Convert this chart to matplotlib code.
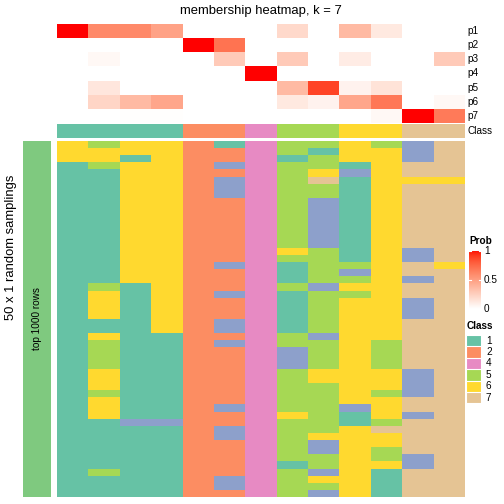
import numpy as np
import matplotlib
matplotlib.use("Agg")
import matplotlib.pyplot as plt
from matplotlib.colors import ListedColormap

plt.rcParams['font.family'] = ['Liberation Sans', 'DejaVu Sans']

# membership probabilities, rows p1..p7, 13 samples
prob_labels = ['p1', 'p2', 'p3', 'p4', 'p5', 'p6', 'p7']
p1 = [1.0, 0.60, 0.60, 0.48, 0, 0, 0, 0.20, 0, 0.36, 0.12, 0, 0]
p2 = [0, 0, 0, 0, 1.0, 0.70, 0, 0, 0, 0, 0, 0, 0]
p3 = [0, 0.04, 0, 0, 0, 0.28, 0, 0.28, 0, 0.10, 0, 0, 0.28]
p4 = [0, 0, 0, 0, 0, 0, 1.0, 0, 0, 0, 0, 0, 0]
p5 = [0, 0.13, 0, 0, 0, 0, 0, 0.36, 0.88, 0.07, 0.15, 0, 0]
p6 = [0, 0.22, 0.36, 0.46, 0, 0, 0, 0.12, 0.07, 0.46, 0.68, 0, 0.04]
p7 = [0, 0, 0.01, 0.01, 0, 0, 0, 0, 0, 0, 0.04, 1.0, 0.67]

sample_class = [1, 1, 1, 1, 2, 2, 4, 5, 5, 6, 6, 7, 7]

# class calls for the 50 random samplings (one string per sample column)
col01 = "66611111111111111111111111111111111111111111111111"
col02 = "56651111111111111111566661165555666566611111115111"
col03 = "66166666666666666666111111111111111111131111111111"
col04 = "66666666666666666666666666611111111111131111111111"
col05 = "22222222222222222222222222222222222222222222222222"
col06 = "12232333222222222322232223323222222223223322222332"
col07 = "44444444444444444444444444444444444444444444444444"
col08 = "55155555555555565111511111155333555555655555515555"
col09 = "51556755333333355555355555535555665555555633553653"
col10 = "66613111111111111535656666666666666663116666666666"
col11 = "56666666666666666666666666665555666566657665561111"
col12 = "33377677777777733773773337777777333377377777337777"
col13 = "77777677777777777677777777777777777777777777777777"
sampling_cols = [col01, col02, col03, col04, col05, col06, col07,
                 col08, col09, col10, col11, col12, col13]

class_labels = ['1', '2', '4', '5', '6', '7']
set2 = ['#66C2A5', '#FC8D62', '#8DA0CB', '#E78AC3', '#A6D854', '#FFD92F', '#E5C494']
class_cmap = ListedColormap(set2)


def lab_white_red(n=256):
    # white -> red interpolated in CIE LAB, like colorRamp2
    t = np.linspace(0, 1, n)
    L = 100 + (53.24 - 100) * t
    a = 80.09 * t
    b = 67.20 * t
    fy = (L + 16) / 116
    fx = fy + a / 500
    fz = fy - b / 200

    def finv(f):
        return np.where(f > 6 / 29, f ** 3, 3 * (6 / 29) ** 2 * (f - 4 / 29))
    X = 0.95047 * finv(fx)
    Y = finv(fy)
    Z = 1.08883 * finv(fz)
    r = 3.2406 * X - 1.5372 * Y - 0.4986 * Z
    g = -0.9689 * X + 1.8758 * Y + 0.0415 * Z
    bb = 0.0557 * X - 0.2040 * Y + 1.0570 * Z
    rgb = np.clip(np.stack([r, g, bb], axis=1), 0, 1)
    rgb = np.where(rgb <= 0.0031308, 12.92 * rgb, 1.055 * rgb ** (1 / 2.4) - 0.055)
    return ListedColormap(np.clip(rgb, 0, 1))


prob_cmap = lab_white_red()

W, H = 504, 504
fig = plt.figure(figsize=(W / 100, H / 100), dpi=100)


def ax_px(x0, y0, x1, y1):
    ax = fig.add_axes([x0 / W, 1 - y1 / H, (x1 - x0) / W, (y1 - y0) / H])
    ax.set_axis_off()
    return ax


def txt(x, y, s, **kw):
    fig.text(x / W, 1 - y / H, s, **kw)


hx0, hx1 = 57, 465

# probability annotation
prob = np.array([p1, p2, p3, p4, p5, p6, p7])
ax = ax_px(hx0, 24, hx1, 123)
ax.pcolormesh(prob, cmap=prob_cmap, vmin=0, vmax=1, antialiased=False)
ax.set_xlim(0, 13)
ax.set_ylim(7, 0)
for i, lab in enumerate(prob_labels):
    txt(467, 24 + (i + 0.5) * 99 / 7, lab, fontsize=7.2, va='center', ha='left')

# class annotation
ax = ax_px(hx0, 124, hx1, 138)
ax.pcolormesh(np.array([sample_class]), cmap=class_cmap, vmin=0.5, vmax=7.5,
              antialiased=False)
ax.set_xlim(0, 13)
txt(467, 131, 'Class', fontsize=7.2, va='center', ha='left')

# main heatmap
mat = np.array([[int(c) for c in s] for s in sampling_cols]).T
ax = ax_px(hx0, 141, hx1, 497)
ax.pcolormesh(mat, cmap=class_cmap, vmin=0.5, vmax=7.5, antialiased=False)
ax.set_xlim(0, 13)
ax.set_ylim(50, 0)

# left row-slice bar
ax = ax_px(23, 141, 51, 497)
ax.add_patch(plt.Rectangle((0, 0), 1, 1, color='#7FC97F', transform=ax.transAxes))
ax.text(0.5, 0.5, 'top 1000 rows', rotation=90, fontsize=7.2,
        ha='center', va='center', transform=ax.transAxes)

txt(261, 11, 'membership heatmap, k = 7', fontsize=9.4, ha='center', va='center')
txt(11, 247, '50 x 1 random samplings', fontsize=9.4, rotation=90,
    ha='center', va='center')

# Prob legend
txt(469, 241, 'Prob', fontsize=7.2, fontweight='bold', ha='left', va='center')
ax = ax_px(469, 251, 481, 309)
grad = np.linspace(1, 0, 100).reshape(-1, 1)
ax.imshow(grad, cmap=prob_cmap, vmin=0, vmax=1, aspect='auto',
          extent=[0, 1, 0, 1], interpolation='bilinear')
for v in [1.0, 0.5]:
    ax.plot([0, 0.2], [v, v], color='white', lw=0.8)
    ax.plot([0.8, 1], [v, v], color='white', lw=0.8)
ax.set_xlim(0, 1)
ax.set_ylim(0, 1)
for v, lab in zip([1.0, 0.5, 0.0], ['1', '0.5', '0']):
    txt(484, 309 - v * 58, lab, fontsize=7.2, ha='left', va='center')

# Class legend
step = 11.4
txt(467, 326, 'Class', fontsize=7.2, fontweight='bold', ha='left', va='center')
for i, lab in enumerate(class_labels):
    k = int(lab) - 1
    top = 335 + i * step
    ax = ax_px(466, top, 481, top + step)
    ax.add_patch(plt.Rectangle((0, 0), 1, 1, facecolor=set2[k],
                               edgecolor='white', lw=0.8, transform=ax.transAxes))
    txt(486, top + step / 2, lab, fontsize=7.2, ha='left', va='center')

fig.savefig('out.png', dpi=100)
